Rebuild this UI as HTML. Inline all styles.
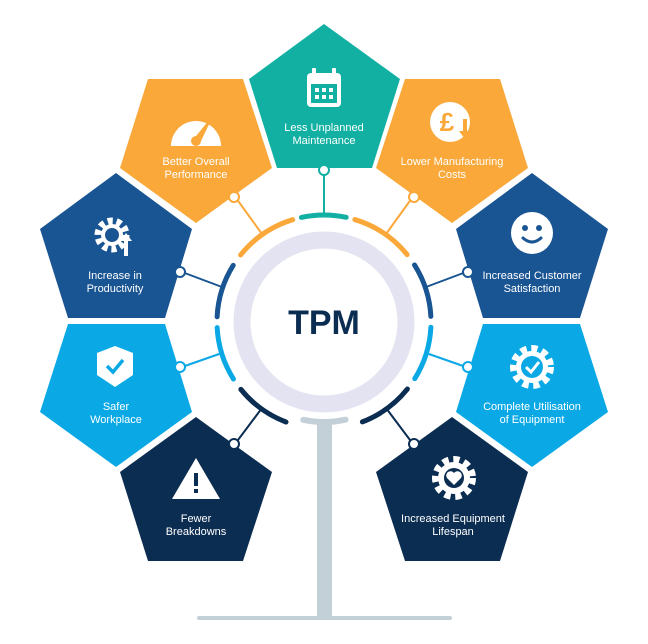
<!DOCTYPE html>
<html><head><meta charset="utf-8"><style>
html,body{margin:0;padding:0;background:#fff;}
svg{display:block}
text{font-family:"Liberation Sans",sans-serif;fill:#fff;font-size:11px;text-anchor:middle}
</style></head><body>
<svg width="648" height="644" viewBox="0 0 648 644" xmlns="http://www.w3.org/2000/svg">
<!-- stem -->
<rect x="317" y="424" width="15" height="194" fill="#c3d0d7"/>
<line x1="199" y1="618" x2="450" y2="618" stroke="#c3d0d7" stroke-width="4" stroke-linecap="round"/>
<!-- connectors -->
<g stroke-width="2" fill="#fff">
<line x1="324" y1="172" x2="324" y2="214" stroke="#12b0a2"/>
<line x1="236" y1="198" x2="262" y2="234" stroke="#f9a839"/>
<line x1="412" y1="198" x2="386" y2="234" stroke="#f9a839"/>
<line x1="182" y1="272" x2="222" y2="287" stroke="#1a5593"/>
<line x1="466" y1="272" x2="426" y2="287" stroke="#1a5593"/>
<line x1="182" y1="367" x2="222" y2="353" stroke="#0aa9e6"/>
<line x1="466" y1="367" x2="426" y2="353" stroke="#0aa9e6"/>
<line x1="235" y1="444" x2="262" y2="408" stroke="#0c2d52"/>
<line x1="413" y1="444" x2="386" y2="408" stroke="#0c2d52"/>
</g>
<!-- ring segments -->
<g fill="none" stroke-width="5" stroke-linecap="round">
<circle cx="324" cy="322" r="107" pathLength="360" stroke-dasharray="24 336" transform="rotate(-102 324 322)" stroke="#12b0a2"/>
<circle cx="324" cy="322" r="107" pathLength="360" stroke-dasharray="34 326" transform="rotate(-141 324 322)" stroke="#f9a839"/>
<circle cx="324" cy="322" r="107" pathLength="360" stroke-dasharray="34 326" transform="rotate(-73 324 322)" stroke="#f9a839"/>
<circle cx="324" cy="322" r="107" pathLength="360" stroke-dasharray="29 331" transform="rotate(-177 324 322)" stroke="#1a5593"/>
<circle cx="324" cy="322" r="107" pathLength="360" stroke-dasharray="29 331" transform="rotate(-32 324 322)" stroke="#1a5593"/>
<circle cx="324" cy="322" r="107" pathLength="360" stroke-dasharray="29 331" transform="rotate(148 324 322)" stroke="#0aa9e6"/>
<circle cx="324" cy="322" r="107" pathLength="360" stroke-dasharray="29 331" transform="rotate(3 324 322)" stroke="#0aa9e6"/>
<circle cx="324" cy="322" r="107" pathLength="360" stroke-dasharray="30 330" transform="rotate(111 324 322)" stroke="#0c2d52"/>
<circle cx="324" cy="322" r="107" pathLength="360" stroke-dasharray="30 330" transform="rotate(39 324 322)" stroke="#0c2d52"/>
<circle cx="324" cy="322" r="100" pathLength="360" stroke-dasharray="24 336" transform="rotate(78 324 322)" stroke="#c3d0d7" stroke-width="6"/>
</g>
<!-- centre -->
<circle cx="324" cy="322" r="82" fill="none" stroke="#e3e3f1" stroke-width="17"/>
<circle cx="324" cy="322" r="73" fill="#fff"/>
<text x="324" y="334" style="font-size:34px;font-weight:bold;fill:#0c2d52">TPM</text>
<!-- pentagons -->
<polygon points="324,24 400,79 372,168 277,168 249,79" fill="#12b0a2"/>
<polygon points="148,79 243,79 272,168 196,223 120,168" fill="#f9a839"/>
<polygon points="500,79 405,79 376,168 452,223 528,168" fill="#f9a839"/>
<polygon points="116,173 192,229 165,318 68,318 40,229" fill="#1a5593"/>
<polygon points="532,173 608,229 580,318 483,318 456,229" fill="#1a5593"/>
<polygon points="68,324 165,324 192,412 116,467 40,412" fill="#0aa9e6"/>
<polygon points="483,324 580,324 608,412 532,467 456,412" fill="#0aa9e6"/>
<polygon points="196,417 272,472 243,561 148,561 120,472" fill="#0c2d52"/>
<polygon points="452,417 528,472 500,561 405,561 376,472" fill="#0c2d52"/>
<!-- connector circles -->
<g stroke-width="2" fill="#fff">
<circle cx="324" cy="170" r="5" stroke="#12b0a2"/>
<circle cx="234" cy="197" r="5" stroke="#f9a839"/>
<circle cx="414" cy="197" r="5" stroke="#f9a839"/>
<circle cx="180" cy="272" r="5" stroke="#1a5593"/>
<circle cx="468" cy="272" r="5" stroke="#1a5593"/>
<circle cx="180" cy="367" r="5" stroke="#0aa9e6"/>
<circle cx="468" cy="367" r="5" stroke="#0aa9e6"/>
<circle cx="234" cy="444" r="5" stroke="#0c2d52"/>
<circle cx="414" cy="444" r="5" stroke="#0c2d52"/>
</g>
<!-- icons -->
<g fill="#fff">
<rect x="307" y="73" width="34" height="34" rx="4"/>
<rect x="312" y="68" width="4" height="8" rx="1"/><rect x="332" y="68" width="4" height="8" rx="1"/>
<g fill="#12b0a2"><rect x="311" y="84" width="26" height="19"/></g>
<g><rect x="315" y="88" width="4" height="4"/><rect x="322" y="88" width="4" height="4"/><rect x="329" y="88" width="4" height="4"/><rect x="315" y="95" width="4" height="4"/><rect x="322" y="95" width="4" height="4"/><rect x="329" y="95" width="4" height="4"/></g>
<path d="M171,146 A25,25 0 1 1 221,146 Z"/>
<path d="M192,141 L214,114 L200,143 Z" fill="#f9a839"/>
<circle cx="196" cy="141" r="5" fill="#f9a839"/>
<circle cx="450" cy="122" r="20"/>
<text x="447" y="131" style="font-size:26px;font-weight:bold;fill:#f9a839">£</text>
<path d="M463,119 v12 h-4 l6,8 l6,-8 h-4 v-12 Z" fill="#f9a839"/>
<circle cx="112" cy="235" r="14" fill="none" stroke="#fff" stroke-width="7" stroke-dasharray="5 3.8"/>
<circle cx="112" cy="235" r="11"/>
<circle cx="112" cy="235" r="7" fill="#1a5593"/>
<path d="M124,256 v-15 h-4 l6,-8 l6,8 h-4 v15 Z"/>
<circle cx="532" cy="233" r="21"/>
<circle cx="525" cy="228" r="3" fill="#1a5593"/><circle cx="539" cy="228" r="3" fill="#1a5593"/>
<path d="M523,238 Q532,246 541,238" fill="none" stroke="#1a5593" stroke-width="3" stroke-linecap="round"/>
<path d="M115,346 L133,353 V375 L115,387 L97,375 V353 Z"/>
<path d="M107,366 L113,372 L123,360" fill="none" stroke="#0aa9e6" stroke-width="3.5"/>
<circle cx="532" cy="367" r="18" fill="none" stroke="#fff" stroke-width="8" stroke-dasharray="6 4.5"/>
<circle cx="532" cy="367" r="16"/>
<circle cx="532" cy="367" r="11" fill="#0aa9e6"/>
<path d="M526,367 L531,372 L539,362" fill="none" stroke="#fff" stroke-width="3"/>
<path d="M196,458 L220,499 L172,499 Z"/>
<rect x="194" y="473" width="4" height="13" fill="#0c2d52"/><rect x="194" y="489" width="4" height="4" fill="#0c2d52"/>
<circle cx="454" cy="478" r="18" fill="none" stroke="#fff" stroke-width="8" stroke-dasharray="6 4.5"/>
<circle cx="454" cy="478" r="16"/>
<circle cx="454" cy="478" r="10" fill="#0c2d52"/>
<path d="M454,485 L447,478 A3.5,3.5 0 0 1 454,473 A3.5,3.5 0 0 1 461,478 Z"/>
</g>
<!-- labels -->
<text x="324" y="131">Less Unplanned</text><text x="324" y="144">Maintenance</text>
<text x="196" y="165">Better Overall</text><text x="196" y="178">Performance</text>
<text x="452" y="165">Lower Manufacturing</text><text x="452" y="178">Costs</text>
<text x="115" y="279">Increase in</text><text x="115" y="292">Productivity</text>
<text x="532" y="279">Increased Customer</text><text x="532" y="292">Satisfaction</text>
<text x="116" y="410">Safer</text><text x="116" y="423">Workplace</text>
<text x="532" y="410">Complete Utilisation</text><text x="532" y="423">of Equipment</text>
<text x="196" y="522">Fewer</text><text x="196" y="535">Breakdowns</text>
<text x="453" y="522">Increased Equipment</text><text x="453" y="535">Lifespan</text>
</svg>
</body></html>
